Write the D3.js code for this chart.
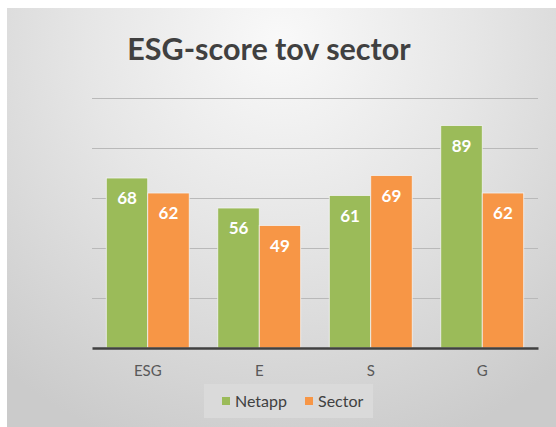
<!DOCTYPE html>
<html>
<head>
<meta charset="utf-8">
<script src="https://cdn.jsdelivr.net/npm/d3@7"></script>
<style>
  body { margin: 0; background: #fff; }
  svg { display: block; font-family: Lato, "Noto Sans", sans-serif; }
</style>
</head>
<body>
<svg id="chart"></svg>
<script>
// Data
var categories = ["ESG", "E", "S", "G"];
var seriesNames = ["Netapp", "Sector"];
var netapp = [68, 56, 61, 89];
var sector = [62, 49, 69, 62];
var yTicks = [0, 20, 40, 60, 80, 100];

var colors = ["#9bbb59", "#f79646"];
var seriesValues = [netapp, sector];

var width = 556,
    height = 427;

var plot = { left: 92, right: 538, top: 98, bottom: 348 };

var svg = d3.select("#chart")
  .attr("width", width)
  .attr("height", height);

// Background gradient, light at the top centre
var defs = svg.append("defs");
var grad = defs.append("radialGradient")
  .attr("id", "bg")
  .attr("gradientUnits", "userSpaceOnUse")
  .attr("cx", 280).attr("cy", 40)
  .attr("r", 430);
grad.append("stop").attr("offset", "0%").attr("stop-color", "#f9f9f9");
grad.append("stop").attr("offset", "45%").attr("stop-color", "#e6e6e6");
grad.append("stop").attr("offset", "100%").attr("stop-color", "#cbcbcb");

svg.append("rect")
  .attr("x", 7).attr("y", 8)
  .attr("width", width - 7).attr("height", height - 8)
  .attr("fill", "url(#bg)");

// Title
svg.append("text")
  .attr("x", 269)
  .attr("y", 60)
  .attr("text-anchor", "middle")
  .attr("fill", "#404040")
  .style("font-size", "30.5px")
  .style("font-weight", "bold")
  .text("ESG-score tov sector");

// Scales
var x = d3.scaleBand()
  .domain(categories)
  .range([plot.left, plot.right])
  .paddingInner(0.256)
  .paddingOuter(0.128);

var xs = d3.scaleBand()
  .domain(seriesNames)
  .range([0, x.bandwidth()]);

var y = d3.scaleLinear()
  .domain([0, 100])
  .range([plot.bottom, plot.top]);

// Gridlines
svg.append("g")
  .selectAll("line")
  .data(yTicks.slice(1))
  .enter().append("line")
  .attr("x1", plot.left)
  .attr("x2", plot.right)
  .attr("y1", function(d) { return Math.round(y(d)) + 0.5; })
  .attr("y2", function(d) { return Math.round(y(d)) + 0.5; })
  .attr("stroke", "#b9b9b9")
  .attr("stroke-width", 1);

// Bars
var groups = svg.append("g")
  .selectAll("g")
  .data(categories)
  .enter().append("g")
  .attr("transform", function(d) { return "translate(" + x(d) + ",0)"; });

groups.selectAll("rect")
  .data(function(d, i) {
    return seriesNames.map(function(s, j) { return { s: s, j: j, v: seriesValues[j][i] }; });
  })
  .enter().append("rect")
  .attr("x", function(d) { return xs(d.s); })
  .attr("y", function(d) { return y(d.v); })
  .attr("width", xs.bandwidth())
  .attr("height", function(d) { return y(0) - y(d.v); })
  .attr("fill", function(d) { return colors[d.j]; })
  .attr("stroke", "#f2f2f2")
  .attr("stroke-width", 0.8);

// Value labels inside the bars
groups.selectAll("text")
  .data(function(d, i) {
    return seriesNames.map(function(s, j) { return { s: s, j: j, v: seriesValues[j][i] }; });
  })
  .enter().append("text")
  .attr("x", function(d) { return xs(d.s) + xs.bandwidth() / 2; })
  .attr("y", function(d) { return y(d.v) + 26; })
  .attr("text-anchor", "middle")
  .attr("fill", "#fff")
  .style("font-size", "17px")
  .style("font-weight", "bold")
  .text(function(d) { return d.v; });

// X axis
var xAxis = svg.append("g")
  .attr("transform", "translate(0," + plot.bottom + ")")
  .call(d3.axisBottom(x).tickSize(0).tickPadding(17));
xAxis.select(".domain")
  .attr("stroke", "#404040")
  .attr("stroke-width", 2.5);
xAxis.selectAll("text")
  .attr("fill", "#595959")
  .style("font-family", "Lato, 'Noto Sans', sans-serif")
  .style("font-size", "15px");

// Legend
var legend = svg.append("g");
legend.append("rect")
  .attr("x", 204).attr("y", 384)
  .attr("width", 169).attr("height", 34)
  .attr("fill", "#dadada");

var legendX = [222, 305];
var items = legend.selectAll("g")
  .data(seriesNames)
  .enter().append("g")
  .attr("transform", function(d, i) { return "translate(" + legendX[i] + ",397)"; });
items.append("rect")
  .attr("width", 8).attr("height", 8)
  .attr("fill", function(d, i) { return colors[i]; });
items.append("text")
  .attr("x", 13)
  .attr("y", 9.5)
  .attr("fill", "#404040")
  .style("font-size", "16px")
  .text(function(d) { return d; });
</script>
</body>
</html>
